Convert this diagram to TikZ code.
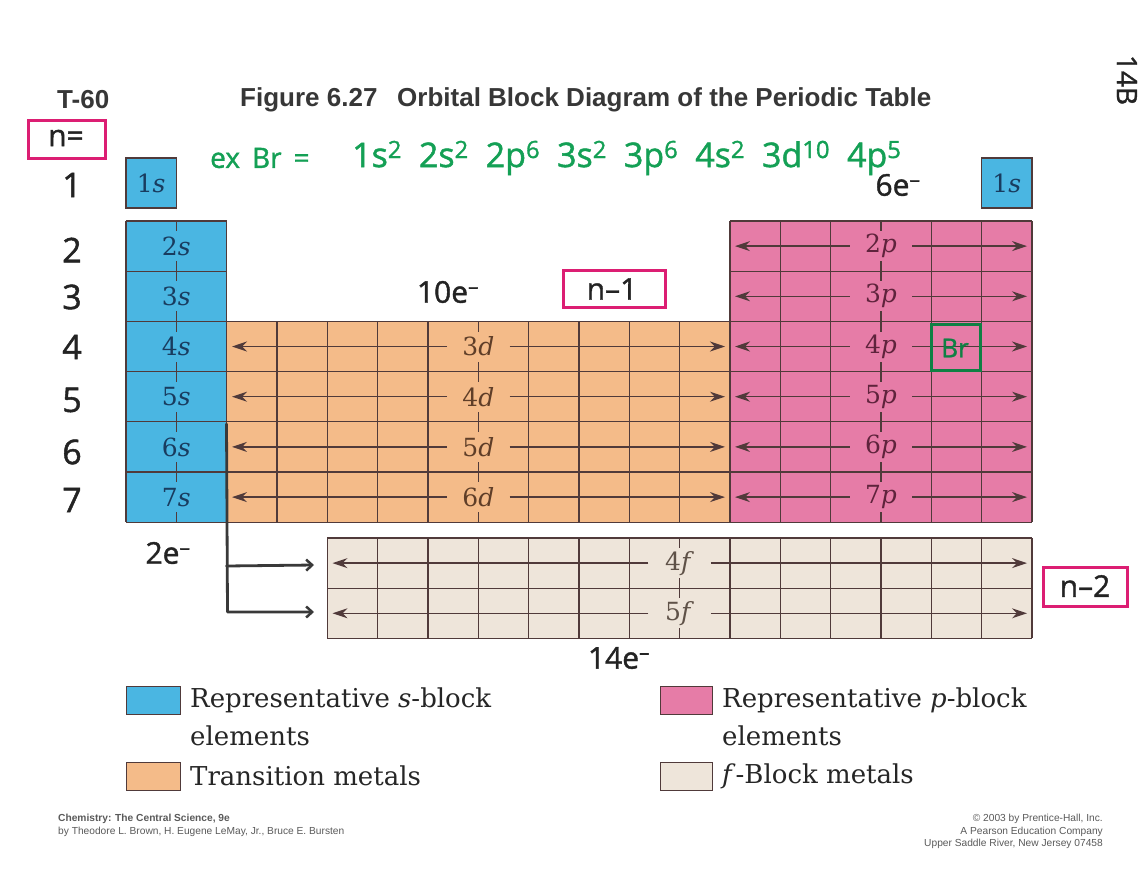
\documentclass[tikz,border=0pt]{standalone}
\usepackage{fontspec}
\newfontfamily\headfont{Liberation Sans}
\newfontfamily\handfont[FakeBold=1.3]{Open Sans}
\newfontfamily\labfont{DejaVu Serif}
\usetikzlibrary{arrows.meta}
\definecolor{sblue}{RGB}{74,182,226}
\definecolor{dorange}{RGB}{244,187,137}
\definecolor{ppink}{RGB}{230,124,167}
\definecolor{fbeige}{RGB}{238,229,218}
\definecolor{gridc}{RGB}{80,58,58}
\definecolor{slab}{RGB}{25,60,95}
\definecolor{dlab}{RGB}{95,62,40}
\definecolor{plab}{RGB}{95,35,60}
\definecolor{flab}{RGB}{95,82,72}
\definecolor{handpink}{RGB}{220,30,115}
\definecolor{handgreen}{RGB}{20,160,85}
\definecolor{ink}{RGB}{35,35,35}
\definecolor{headgray}{RGB}{55,55,55}
\definecolor{footgray}{RGB}{90,90,90}
\begin{document}
\begin{tikzpicture}[x=1pt,y=-1pt,
  gl/.style={draw=gridc,line width=1.3pt},
  cellabel/.style={inner sep=0pt,minimum width=62pt,minimum height=30pt,
    font=\labfont\fontsize{25}{25}\selectfont},
  arr/.style={draw=gridc,line width=1.3pt,-{Stealth[length=15pt,width=10pt]}},
  hand/.style={font=\handfont\fontsize{34}{34}\selectfont,text=ink,inner sep=0pt},
  pinkbox/.style={draw=handpink,line width=3pt},
  handline/.style={draw=ink!90,line width=2.8pt,line cap=round,line join=round,
    -{Straight Barb[length=6pt,width=11pt,line width=2.5pt]}},
  legbox/.style={draw=gridc,line width=1pt},
  legtext/.style={anchor=west,inner sep=0pt,font=\labfont\fontsize{26}{26}\selectfont,text=black!85},
  head/.style={anchor=west,inner sep=0pt,font=\headfont\bfseries\fontsize{26}{26}\selectfont,text=headgray},
  foot/.style={inner sep=0pt,font=\headfont\fontsize{10.2}{12.6}\selectfont,text=footgray}
]
\useasboundingbox (0,0) rectangle (1140,880);
\fill[white] (0,0) rectangle (1140,880);
\def\cw{50.333}
\def\rh{50.2}

% ---------- header ----------
\node[head] (t60) at (57,100) {T-60};
\node[head] (fig) at (240,100) {Figure 6.27};
\node[head] (title) at (397,100) {Orbital Block Diagram of the Periodic Table};

% ---------- row 1 ----------
\filldraw[fill=sblue,gl] (126,158) rectangle (176.33,208);
\node[cellabel,text=slab] (l1sL) at (151.17,183) {1\textit{s}};
\filldraw[fill=sblue,gl] (981.67,158) rectangle (1032,208);
\node[cellabel,text=slab] (l1sR) at (1006.83,183) {1\textit{s}};

% ---------- fills ----------
\fill[sblue] (126,221) rectangle (226.67,522.2);
\fill[dorange] (226.67,321.4) rectangle (730,522.2);
\fill[ppink] (730,221) rectangle (1032,522.2);
\fill[fbeige] (327.33,538) rectangle (1032,638.4);

% ---------- grid lines ----------
\foreach \j in {0,...,6} \draw[gl] (126,221+\j*\rh) -- (226.67,221+\j*\rh);
\draw[gl] (126,221) -- (126,522.2);
\draw[gl] (176.33,221) -- (176.33,522.2);
\foreach \j in {0,...,4} \draw[gl] (226.67,321.4+\j*\rh) -- (730,321.4+\j*\rh);
\foreach \k in {0,...,10} \draw[gl] (226.67+\k*\cw,321.4) -- (226.67+\k*\cw,522.2);
\draw[gl] (226.67,221) -- (226.67,321.4);
\foreach \j in {0,...,6} \draw[gl] (730,221+\j*\rh) -- (1032,221+\j*\rh);
\foreach \k in {0,...,6} \draw[gl] (730+\k*\cw,221) -- (730+\k*\cw,522.2);
\foreach \j in {0,...,2} \draw[gl] (327.33,538+\j*\rh) -- (1032,538+\j*\rh);
\foreach \k in {0,...,14} \draw[gl] (327.33+\k*\cw,538) -- (327.33+\k*\cw,638.4);

% ---------- s labels ----------
\foreach \n in {2,...,7}{
  \node[cellabel,fill=sblue,text=slab] (l\n s) at (176.33,221+\n*\rh-1.5*\rh) {\n\textit{s}};
}
% ---------- d labels and arrows ----------
\foreach \n/\r in {3/4,4/5,5/6,6/7}{
  \node[cellabel,fill=dorange,text=dlab] (l\n d) at (478.33,221+\r*\rh-1.5*\rh) {\n\textit{d}};
  \coordinate (dL\n) at (232,221+\r*\rh-1.5*\rh);
  \coordinate (dR\n) at (725,221+\r*\rh-1.5*\rh);
  \draw[arr] (l\n d) -- (dL\n);
  \draw[arr] (l\n d) -- (dR\n);
}
% ---------- p labels and arrows ----------
\foreach \n in {2,...,7}{
  \node[cellabel,fill=ppink,text=plab] (l\n p) at (881,221+\n*\rh-1.5*\rh) {\n\textit{p}};
  \coordinate (pL\n) at (735,221+\n*\rh-1.5*\rh);
  \coordinate (pR\n) at (1027,221+\n*\rh-1.5*\rh);
  \draw[arr] (l\n p) -- (pL\n);
  \draw[arr] (l\n p) -- (pR\n);
}
% ---------- f labels and arrows ----------
\foreach \n/\r in {4/1,5/2}{
  \node[cellabel,fill=fbeige,text=flab] (l\n f) at (679.67,538+\r*\rh-0.5*\rh) {\n\textit{f}};
  \coordinate (fL\n) at (332.5,538+\r*\rh-0.5*\rh);
  \coordinate (fR\n) at (1027,538+\r*\rh-0.5*\rh);
  \draw[arr] (l\n f) -- (fL\n);
  \draw[arr] (l\n f) -- (fR\n);
}

% ---------- handwritten annotations ----------
\draw[pinkbox] (28,121) rectangle (105,158);
\node[hand,font=\handfont\fontsize{30}{30}\selectfont] (neq) at (66,138) {n=};
\foreach \n/\yy in {1/185,2/250,3/297,4/347,5/400,6/452,7/500}{
  \node[hand] (rn\n) at (72,\yy) {\n};
}
\node[anchor=west,inner sep=0pt,text=handgreen,font=\handfont\fontsize{28}{28}\selectfont] (exbr) at (210,158)
  {ex\hspace{12pt}Br\hspace{12pt}=};
\node[anchor=west,inner sep=0pt,text=handgreen,font=\handfont\fontsize{34}{34}\selectfont] (cfg) at (352,158)
  {1s\textsuperscript{2}\hspace{17pt}2s\textsuperscript{2}\hspace{17pt}2p\textsuperscript{6}\hspace{17pt}3s\textsuperscript{2}\hspace{17pt}3p\textsuperscript{6}\hspace{17pt}4s\textsuperscript{2}\hspace{17pt}3d\textsuperscript{10}\hspace{17pt}4p\textsuperscript{5}};
\node[hand,rotate=-90,font=\handfont\fontsize{28}{28}\selectfont] (pg) at (1127,80) {14B};
\node[hand,font=\handfont\fontsize{30}{30}\selectfont] (e6) at (898,185) {6e\textsuperscript{–}};
\node[hand,font=\handfont\fontsize{30}{30}\selectfont] (e10) at (448,292) {10e\textsuperscript{–}};
\node[hand,font=\handfont\fontsize{30}{30}\selectfont] (e2) at (168,553) {2e\textsuperscript{–}};
\node[hand,font=\handfont\fontsize{30}{30}\selectfont] (e14) at (619,658) {14e\textsuperscript{–}};
\draw[pinkbox] (563,270) rectangle (665,307);
\node[hand,font=\handfont\fontsize{30}{30}\selectfont] (nm1) at (612,289) {n–1};
\draw[pinkbox] (1043,567) rectangle (1127,606);
\node[hand,font=\handfont\fontsize{30}{30}\selectfont] (nm2) at (1085,586) {n–2};
\draw[draw=handgreen!80!black,line width=3pt] (931,324) rectangle (980,370);
\node[inner sep=0pt,text=handgreen!80!black,font=\handfont\fontsize{26}{26}\selectfont] (br) at (955,348) {Br};

% hand-drawn connector from s block to f block
\coordinate (hs) at (226.5,424);
\coordinate (hb1) at (226.5,566);
\coordinate (hb2) at (227.5,612);
\coordinate (he1) at (314,565);
\coordinate (he2) at (314,612);
\draw[handline] (hs) -- (hb2) -- (he2);
\draw[handline] (hb1) -- (he1);

% ---------- legend ----------
\filldraw[fill=sblue,legbox] (126,686) rectangle (180,714);
\node[legtext] (lgs) at (190,700) {Representative \textit{s}-block};
\node[legtext] (lgs2) at (190,736) {elements};
\filldraw[fill=dorange,legbox] (126,762) rectangle (180,790);
\node[legtext] (lgd) at (190,776) {Transition metals};
\filldraw[fill=ppink,legbox] (660,686) rectangle (712,714);
\node[legtext] (lgp) at (722,700) {Representative \textit{p}-block};
\node[legtext] (lgp2) at (722,736) {elements};
\filldraw[fill=fbeige,legbox] (660,762) rectangle (712,790);
\node[legtext] (lgf) at (722,776) {\textit{f}-Block metals};

% ---------- footer ----------
\node[foot,anchor=north west,align=left] (fl) at (58,814) {\textbf{Chemistry: The Central Science, 9e}\\by Theodore L. Brown, H. Eugene LeMay, Jr., Bruce E. Bursten};
\node[foot,anchor=north east,align=right] (fr) at (1103,814) {\textcopyright{} 2003 by Prentice-Hall, Inc.\\A Pearson Education Company\\Upper Saddle River, New Jersey 07458};
\end{tikzpicture}
\end{document}
